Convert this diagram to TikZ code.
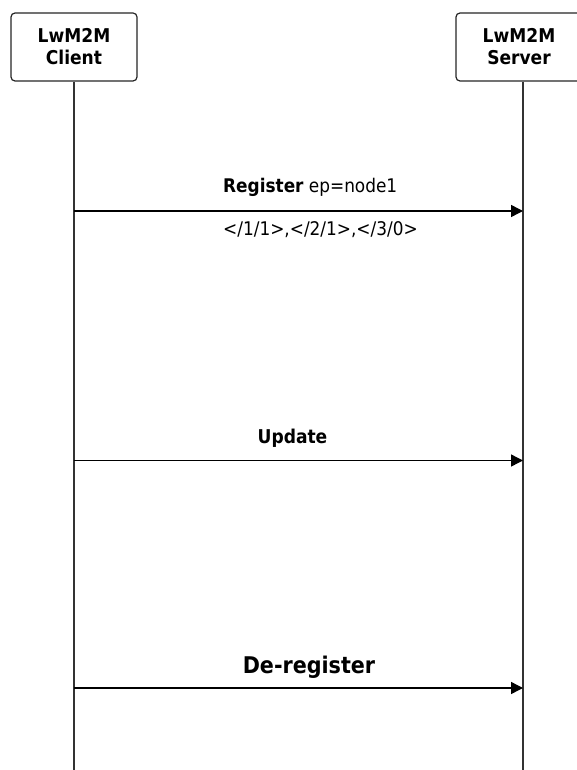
\documentclass[tikz,border=0pt]{standalone}
\usepackage{fontspec}
\setmainfont{DejaVu Sans Condensed}
\usetikzlibrary{arrows.meta}
\begin{document}
\begin{tikzpicture}[x=1pt,y=-1pt,
  actor/.style={draw=black!85, line width=1.2pt, rounded corners=4pt, fill=white,
    minimum width=126pt, minimum height=68pt, align=center,
    font=\fontsize{19}{22}\selectfont\bfseries},
  life/.style={draw=black!80, line width=1.5pt},
  msg/.style={draw=black, line width=1.4pt, -{Triangle[length=12pt,width=12pt]}},
  lbl/.style={inner sep=0pt, font=\fontsize{18.8}{22}\selectfont}
]
\useasboundingbox (0,0) rectangle (576,770);
\coordinate (cend) at (74,771);
\coordinate (send) at (523,771);
\node[actor] (client) at (74,47) {LwM2M\\Client};
\node[actor] (server) at (519,47) {LwM2M\\Server};
\draw[life] (client.south) -- (cend);
\draw[life] (server.south -| send) -- (send);

\coordinate (c1) at (74,211);
\coordinate (s1) at (523,211);
\coordinate (c2) at (74,460.5);
\coordinate (s2) at (523,460.5);
\coordinate (c3) at (74,688);
\coordinate (s3) at (523,688);

\draw[msg] (c1) -- (s1);
\draw[msg] (c2) -- (s2);
\draw[msg] (c3) -- (s3);

\node[lbl, anchor=base west] (l1) at (223,193) {\textbf{Register} ep=node1};
\node[lbl, anchor=base west] (l1b) at (223,235) {</1/1>,</2/1>,</3/0>};
\node[lbl, anchor=base, font=\fontsize{19}{22}\selectfont\bfseries] (l2) at (292.5,443) {Update};
\node[lbl, anchor=base, font=\fontsize{23}{26}\selectfont\bfseries] (l3) at (309,673) {De-register};
\end{tikzpicture}
\end{document}
